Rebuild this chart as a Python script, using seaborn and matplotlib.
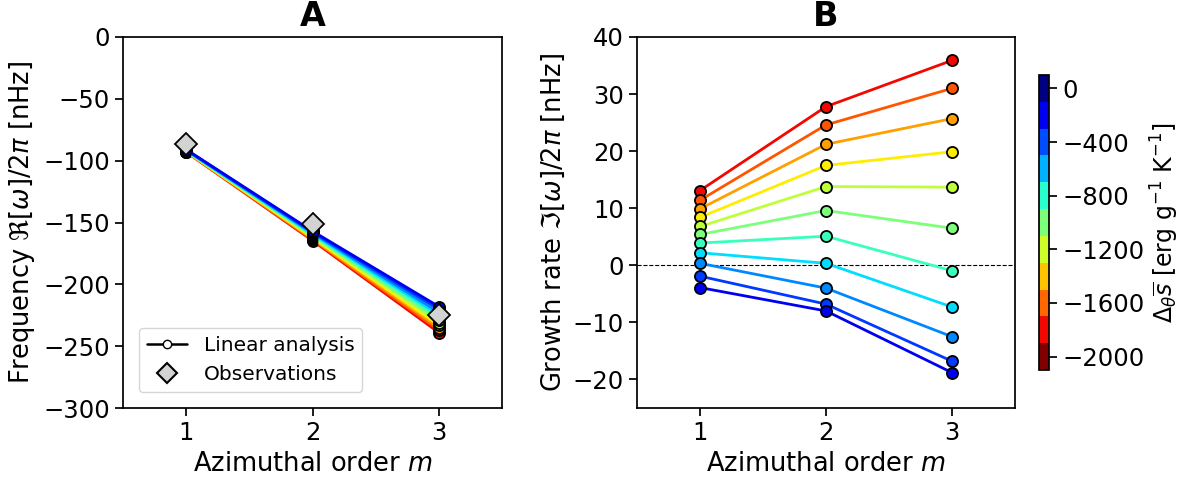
import numpy as np
import pandas as pd
import matplotlib
matplotlib.use('Agg')
import matplotlib.pyplot as plt
import matplotlib.colors as mcolors
import seaborn as sns

# entropy gradient values (one line each), from most negative to zero
ds_values = [-2000, -1800, -1600, -1400, -1200, -1000, -800, -600, -400, -200, 0]
m_values = [1, 2, 3]

# panel A: real part of frequency [nHz], one entry per ds value
freq_m1 = [-93.0, -92.8, -92.6, -92.4, -92.2, -92.0, -91.8, -91.6, -91.4, -91.2, -91.0]
freq_m2 = [-164.6, -163.9, -163.1, -162.3, -161.5, -160.8, -160.0, -159.3, -158.5, -157.7, -157.0]
freq_m3 = [-239.0, -237.0, -235.0, -233.0, -231.0, -229.0, -226.5, -224.5, -222.5, -220.0, -218.0]
obs_freq = [-86.2, -151.5, -224.5]

# panel B: growth rate [nHz]
grow_m1 = [13.1, 11.4, 9.9, 8.4, 6.8, 5.4, 3.9, 2.2, 0.35, -1.9, -3.9]
grow_m2 = [27.8, 24.6, 21.2, 17.5, 13.8, 9.6, 5.1, 0.35, -4.0, -6.8, -8.0]
grow_m3 = [35.9, 31.0, 25.7, 19.9, 13.7, 6.5, -0.95, -7.3, -12.5, -16.8, -18.8]

rows = []
for i, ds in enumerate(ds_values):
    for m, f, g in zip(m_values, [freq_m1[i], freq_m2[i], freq_m3[i]], [grow_m1[i], grow_m2[i], grow_m3[i]]):
        rows.append({'ds': ds, 'm': m, 'freq': f, 'grow': g})
df = pd.DataFrame(rows)

sns.set_theme(style='ticks', rc={'axes.edgecolor': 'black', 'xtick.color': 'black', 'ytick.color': 'black',
                                 'text.color': 'black', 'axes.labelcolor': 'black'})
plt.rcParams['font.family'] = ['DejaVu Sans']
plt.rcParams['mathtext.fontset'] = 'dejavusans'

jet = plt.get_cmap('jet')
line_colors = {ds: jet(0.9 - 0.8 * k / (len(ds_values) - 1)) for k, ds in enumerate(ds_values)}

W, H = 1180, 479
fig = plt.figure(figsize=(W / 100, H / 100), dpi=100)
axA = fig.add_axes([123 / W, 1 - 408 / H, (502 - 123) / W, (408 - 37) / H])
axB = fig.add_axes([637 / W, 1 - 408 / H, (1015 - 637) / W, (408 - 37) / H])
cax = fig.add_axes([1039 / W, 1 - 370 / H, 10 / W, (370 - 75) / H])

fs_tick = 17.5
fs_lab = 18.5
mk = dict(marker='o', markersize=8, markeredgecolor='black', markeredgewidth=1.3, linewidth=2)

sns.lineplot(data=df, x='m', y='freq', hue='ds', palette=line_colors, legend=False, ax=axA, **mk)
axA.plot(m_values, obs_freq, linestyle='none', marker='D', markersize=11, markerfacecolor='lightgray',
         markeredgecolor='black', markeredgewidth=1.3, zorder=5)
axA.set_xlim(0.5, 3.5)
axA.set_ylim(-300, 0)
axA.set_xticks(m_values)
axA.set_yticks([0, -50, -100, -150, -200, -250, -300])
axA.set_xlabel('Azimuthal order $m$', fontsize=fs_lab)
axA.set_ylabel(r'Frequency $\Re[\omega]/2\pi$ [nHz]', fontsize=fs_lab)
axA.set_title('A', fontsize=24, fontweight='bold', pad=8)
axA.tick_params(labelsize=fs_tick)

h1, = axA.plot([], [], color='black', marker='o', markerfacecolor='white', markeredgecolor='black',
               markersize=6, linewidth=1.8)
h2, = axA.plot([], [], linestyle='none', marker='D', markerfacecolor='lightgray', markeredgecolor='black',
               markersize=10, markeredgewidth=1.5)
axA.legend([h1, h2], ['Linear analysis', 'Observations'], loc='lower left', fontsize=14.5,
           frameon=True, borderaxespad=0.8)

axB.axhline(0, color='black', linestyle='--', linewidth=0.8, zorder=0)
sns.lineplot(data=df, x='m', y='grow', hue='ds', palette=line_colors, legend=False, ax=axB, **mk)
axB.set_xlim(0.5, 3.5)
axB.set_ylim(-25, 40)
axB.set_xticks(m_values)
axB.set_yticks([-20, -10, 0, 10, 20, 30, 40])
axB.set_xlabel('Azimuthal order $m$', fontsize=fs_lab)
axB.set_ylabel(r'Growth rate $\Im[\omega]/2\pi$ [nHz]', fontsize=fs_lab)
axB.set_title('B', fontsize=24, fontweight='bold', pad=8)
axB.tick_params(labelsize=fs_tick)

cb_colors = [jet(v) for v in np.linspace(1, 0, len(ds_values))]
cmap = mcolors.ListedColormap(cb_colors)
bounds = [ds_values[0] - 100] + [d + 100 for d in ds_values]
norm = mcolors.BoundaryNorm(bounds, cmap.N)
sm = plt.cm.ScalarMappable(cmap=cmap, norm=norm)
cb = fig.colorbar(sm, cax=cax, ticks=[0, -400, -800, -1200, -1600, -2000])
cb.minorticks_off()
cb.ax.tick_params(labelsize=fs_tick)
cb.set_label(r'$\Delta_\theta\overline{s}$ [erg g$^{-1}$ K$^{-1}$]', fontsize=17, labelpad=3)

fig.savefig('out.png', dpi=100)
